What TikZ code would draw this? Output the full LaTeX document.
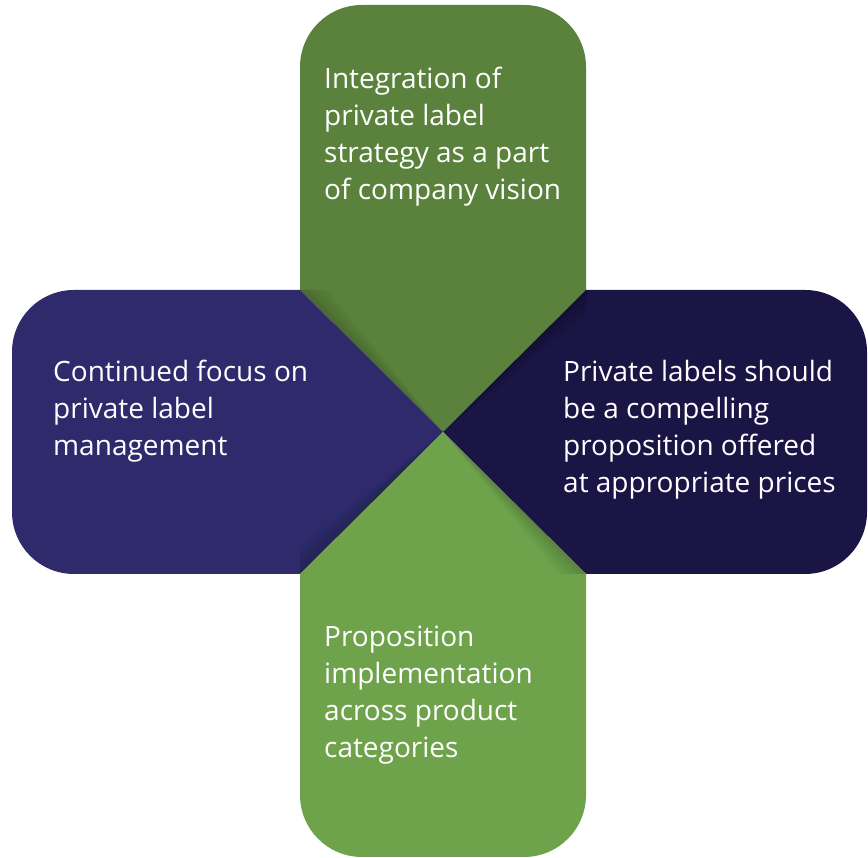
\documentclass[tikz,border=0pt]{standalone}
\usepackage{fontspec}
\setmainfont{Open Sans}
\definecolor{topgreen}{HTML}{5A823C}
\definecolor{botgreen}{HTML}{6EA34C}
\definecolor{leftblue}{HTML}{2E2A6B}
\definecolor{rightnavy}{HTML}{1B1545}
\tikzset{
  petaltext/.style={anchor=base west, inner sep=0pt, align=left, text=white,
    font=\fontsize{28}{37}\selectfont},
  shade wedge/.style={fill=black, fill opacity=0.025}
}
\begin{document}
\begin{tikzpicture}[x=1pt,y=1pt]
\useasboundingbox (0,0) rectangle (868,858);
\def\r{62}
% top petal
\fill[topgreen] (443,426) -- (300,568) -- (300,853-\r) arc[start angle=180,end angle=90,radius=\r]
  -- (586-\r,853) arc[start angle=90,end angle=0,radius=\r] -- (586,568) -- cycle;
% left petal
\fill[leftblue] (443,426) -- (300,568) -- (12+\r,568) arc[start angle=90,end angle=180,radius=\r]
  -- (12,284+\r) arc[start angle=180,end angle=270,radius=\r] -- (300,284) -- cycle;
% right petal
\fill[rightnavy] (443,426) -- (586,568) -- (867-\r,568) arc[start angle=90,end angle=0,radius=\r]
  -- (867,284+\r) arc[start angle=0,end angle=-90,radius=\r] -- (586,284) -- cycle;
% bottom petal
\fill[botgreen] (443,426) -- (300,284) -- (300,1+\r) arc[start angle=180,end angle=270,radius=\r]
  -- (586-\r,1) arc[start angle=270,end angle=360,radius=\r] -- (586,284) -- cycle;
% soft shadows along the diagonal edges
\foreach \w in {4,8,12,16,20,24,28}{
  \fill[shade wedge] (443,426) -- (300,568) -- (300+\w,568) -- cycle;
  \fill[shade wedge] (443,426) -- (300,284) -- (300,284+\w) -- cycle;
  \fill[shade wedge] (443,426) -- (586,284) -- (586-\w,284) -- cycle;
  \fill[shade wedge] (443,426) -- (586,568) -- (586,568-\w) -- cycle;
}
% texts (anchor at baseline of last line)
\node[petaltext] (ttop) at (324,658) {Integration of\\private label\\strategy as a part\\of company vision};
\node[petaltext] (tleft) at (53,402) {Continued focus on\\private label\\management};
\node[petaltext] (tright) at (563,365) {Private labels should\\be a compelling\\proposition offered\\at appropriate prices};
\node[petaltext] (tbottom) at (324,100) {Proposition\\implementation\\across product\\categories};
\end{tikzpicture}
\end{document}
